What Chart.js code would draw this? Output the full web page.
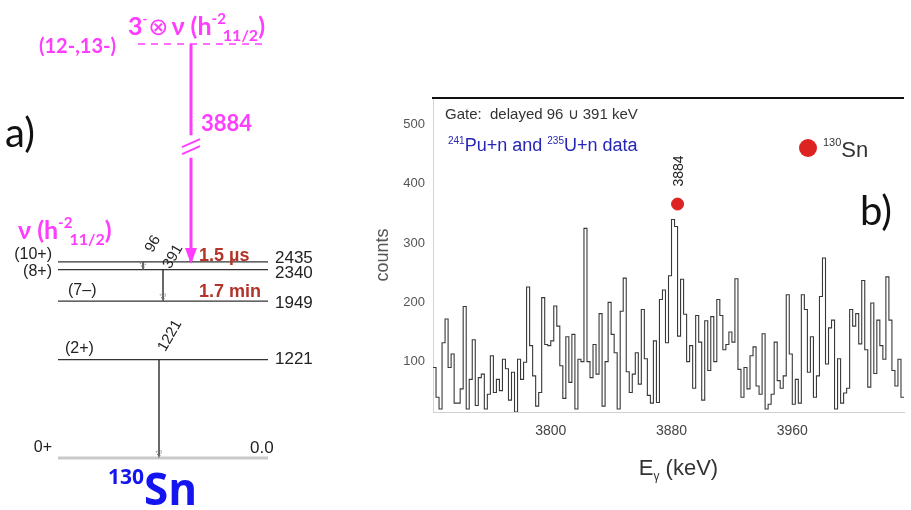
<!DOCTYPE html>
<html>
<head>
<meta charset="utf-8">
<script src="https://cdn.jsdelivr.net/npm/chart.js@4.4.1/dist/chart.umd.min.js"></script>
<style>
    body { margin: 0; background: #fff; width: 911px; height: 510px; overflow: hidden; position: relative; }
    .box { position: absolute; top: 0; height: 510px; }
</style>
</head>
<body>
<div class="box" style="left:0;width:340px"><canvas id="scheme"></canvas></div>
<div class="box" style="left:340px;width:571px"><canvas id="spec"></canvas></div>
<script>
// ---- level scheme of 130Sn (keV)
var levelEnergy = [0, 1221, 1949, 2340, 2435, 6319]
var levelSpin = ['0+', '(2+)', '(7–)', '(8+)', '(10+)', '(12-,13-)']
var levelText = ['0.0', '1221', '1949', '2340', '2435', '']
var gammaFrom = [2435, 2340, 1221, 6319]
var gammaTo = [2340, 1949, 0, 2435]
var gammaLabel = ['96', '391', '1221', '3884']
var isomerLevel = [2435, 1949]
var isomerHalfLife = ['1.5 µs', '1.7 min']

// ---- gated spectrum, 2 keV bins from 3722 keV
var binStart = 3722
var binWidth = 2
var counts = [
    90, 40, 20, 132, 172, 90, 113, 30, 30, 54,
    193, 20, 70, 137, 26, 73, 79, 20, 45, 110,
    48, 70, 51, 104, 88, 35, 82, 15, 104, 70,
    99, 226, 127, 76, 25, 48, 208, 129, 127, 135,
    194, 160, 93, 38, 142, 65, 146, 20, 104, 100,
    325, 100, 73, 129, 79, 181, 25, 100, 200, 146,
    115, 20, 185, 241, 83, 48, 79, 115, 62, 188,
    105, 43, 30, 135, 31, 205, 221, 132, 245, 340,
    328, 143, 239, 180, 100, 127, 55, 178, 133, 35,
    169, 85, 176, 100, 205, 178, 120, 129, 150, 133,
    240, 87, 40, 90, 54, 110, 125, 59, 45, 147,
    20, 28, 45, 133, 68, 55, 76, 213, 113, 28,
    70, 30, 213, 188, 82, 142, 40, 76, 210, 275,
    96, 157, 170, 20, 105, 30, 47, 55, 188, 160,
    181, 130, 237, 120, 57, 199, 80, 170, 127, 104,
    243, 170, 85, 59, 104, 40
]
var xTicks = [3800, 3880, 3960]
var yTicks = [100, 200, 300, 400, 500]
var peakEnergy = 3884
var peakMark = 366

var MAGENTA = '#ff3cff'
var ISO_RED = '#b3342b'
var SANS = "'Liberation Sans', Arial, sans-serif"
var CAL = "Lato, 'DejaVu Sans', sans-serif"

// the axis is broken above 2500 keV, upper part squeezed
var BREAK_E = 2500
var SQUEEZE = 0.692
var BREAK_HI = 4010
var BREAK_LO = 3730
function dispE(e) {
    return e > BREAK_E ? BREAK_E + (e - BREAK_E) * SQUEEZE : e
}

// draws a run of text pieces [text, font, dy, dx]
function drawParts(ctx, x, y, parts, align) {
    var w = 0
    parts.forEach(function(p) { ctx.font = p[1]; w += ctx.measureText(p[0]).width + (p[3] || 0) })
    if (align == 'center') x -= w / 2
    else if (align == 'right') x -= w
    ctx.textAlign = 'left'
    parts.forEach(function(p) {
        ctx.font = p[1]
        x += (p[3] || 0)
        ctx.fillText(p[0], x, y + (p[2] || 0))
        x += ctx.measureText(p[0]).width
    })
}

// ================= a) level scheme
var LX0 = 58, LX1 = 268
var gammaX = [143, 163, 159, 191]
var schemeSets = []

levelEnergy.forEach(function(e, i) {
    var top = i == levelEnergy.length - 1
    schemeSets.push({
        data: [{x: top ? 138 : LX0, y: dispE(e)}, {x: top ? 265 : LX1, y: dispE(e)}],
        borderColor: i == 0 ? '#c9c9c9' : (top ? MAGENTA : '#333'),
        borderWidth: i == 0 ? 3 : (top ? 1.6 : 1.3),
        borderDash: top ? [7, 6] : []
    })
})

gammaFrom.forEach(function(e, i) {
    var big = gammaLabel[i] == '3884'
    var col = big ? MAGENTA : '#555'
    if (big) {
        // two pieces round the axis break
        schemeSets.push({data: [{x: gammaX[i], y: dispE(e)}, {x: gammaX[i], y: BREAK_HI}], borderColor: col, borderWidth: 3, gamma: i})
        schemeSets.push({data: [{x: gammaX[i], y: BREAK_LO}, {x: gammaX[i], y: dispE(gammaTo[i])}], borderColor: col, borderWidth: 3, gamma: i, head: true})
    } else {
        schemeSets.push({data: [{x: gammaX[i], y: dispE(e)}, {x: gammaX[i], y: dispE(gammaTo[i])}], borderColor: col, borderWidth: 1, gamma: i, head: true})
    }
})

var schemeDecor = {
    id: 'schemeDecor',
    afterDatasetsDraw: function(chart) {
        var ctx = chart.ctx
        var xs = chart.scales.x, ys = chart.scales.y
        var px = function(v) { return xs.getPixelForValue(v) }
        var py = function(e) { return ys.getPixelForValue(dispE(e)) }
        ctx.save()

        // arrow heads
        chart.data.datasets.forEach(function(ds, k) {
            if (!ds.head) return
            var meta = chart.getDatasetMeta(k)
            var p = meta.data[meta.data.length - 1]
            var big = gammaLabel[ds.gamma] == '3884'
            var hw = big ? 6 : 3, hh = big ? 14 : 7
            ctx.beginPath()
            ctx.moveTo(p.x, p.y + (big ? 2 : 0))
            ctx.lineTo(p.x - hw, p.y - hh)
            ctx.lineTo(p.x + hw, p.y - hh)
            ctx.closePath()
            if (big) { ctx.fillStyle = MAGENTA; ctx.fill() }
            else { ctx.strokeStyle = '#777'; ctx.lineWidth = 0.9; ctx.setLineDash([1.5, 1.5]); ctx.stroke(); ctx.setLineDash([]) }
        })

        // break marks
        var bx = px(gammaX[3])
        var byHi = ys.getPixelForValue(BREAK_HI)
        ctx.strokeStyle = MAGENTA
        ctx.lineWidth = 2
        ;[byHi + 8, byHi + 15].forEach(function(y) {
            ctx.beginPath()
            ctx.moveTo(bx - 9, y + 4)
            ctx.lineTo(bx + 9, y - 4)
            ctx.stroke()
        })

        // level labels
        var spinPos = [[52, 'right', -10], [65, 'left', -11], [68, 'left', -10], [52, 'right', 2], [52, 'right', -7]]
        var enPos = [[250, -10], [275, 0], [275, 2], [275, 4], [275, -4]]
        ctx.fillStyle = '#222'
        ctx.textBaseline = 'middle'
        for (var i = 0; i < 5; i++) {
            ctx.font = '16px ' + SANS
            ctx.textAlign = spinPos[i][1]
            ctx.fillText(levelSpin[i], px(spinPos[i][0]), py(levelEnergy[i]) + spinPos[i][2])
            ctx.textAlign = 'left'
            ctx.font = '17px ' + SANS
            ctx.fillText(levelText[i], px(enPos[i][0]), py(levelEnergy[i]) + enPos[i][1])
        }

        // rotated gamma labels
        var gOff = [[10, -18], [10, -13], [11, -24]]
        ctx.font = '15px ' + SANS
        ctx.textAlign = 'center'
        for (var g = 0; g < 3; g++) {
            ctx.save()
            ctx.translate(px(gammaX[g]) + gOff[g][0], py(gammaFrom[g]) + gOff[g][1])
            ctx.rotate(-1.05)
            ctx.fillText(gammaLabel[g], 0, 0)
            ctx.restore()
        }

        // isomer half-lives
        ctx.fillStyle = ISO_RED
        ctx.font = 'bold 18px ' + SANS
        ctx.textAlign = 'left'
        ctx.fillText(isomerHalfLife[0], px(199), py(isomerLevel[0]) - 6)
        ctx.fillText(isomerHalfLife[1], px(199), py(isomerLevel[1]) - 9)

        // magenta labels
        ctx.fillStyle = MAGENTA
        ctx.textBaseline = 'alphabetic'
        ctx.font = 'bold 22px ' + CAL
        ctx.fillText(gammaLabel[3], px(gammaX[3]) + 10, 131)
        ctx.font = 'bold 20px ' + CAL
        ctx.textAlign = 'right'
        ctx.fillText(levelSpin[5], px(116), py(levelEnergy[5]) + 9)

        var B = 'bold 25px ' + CAL
        drawParts(ctx, px(128), 35, [
            ['3', B], ['-', 'bold 13px ' + CAL, -11], ['⊗', '24px ' + CAL, 0, 1], ['ν', B, 0, 3], [' (h', B],
            ['-2', 'bold 15px ' + CAL, -11], ['11/2', 'bold 16px ' + CAL, 6, -3], [')', B]
        ])
        drawParts(ctx, px(18), 239, [
            ['ν', B], [' (h', B], ['-2', 'bold 15px ' + CAL, -11], ['11/2', 'bold 16px ' + CAL, 6, -3], [')', B]
        ])

        // panel letter and nucleus
        ctx.fillStyle = '#111'
        ctx.font = '40px ' + CAL
        ctx.fillText('a)', 5, 147)
        ctx.fillStyle = '#1414f0'
        drawParts(ctx, 108, 505, [['130', 'bold 21px ' + "'Open Sans', sans-serif", -21], ['Sn', 'bold 44px ' + "'Open Sans', sans-serif"]])
        ctx.restore()
    }
}

new Chart(document.getElementById('scheme'), {
    type: 'scatter',
    data: { datasets: schemeSets },
    options: {
        responsive: true,
        maintainAspectRatio: false,
        animation: false,
        showLine: true,
        elements: { point: { radius: 0 }, line: { borderCapStyle: 'butt' } },
        layout: { padding: 0 },
        plugins: { legend: { display: false }, tooltip: { enabled: false } },
        scales: {
            x: { type: 'linear', min: 0, max: 340, display: false },
            y: { type: 'linear', min: -646, max: 5689, display: false }
        }
    },
    plugins: [schemeDecor]
})

// ================= b) spectrum
var specPoints = counts.map(function(c, i) { return {x: binStart + i * binWidth, y: c} })
specPoints.push({x: binStart + counts.length * binWidth, y: counts[counts.length - 1]})

var specDecor = {
    id: 'specDecor',
    afterDraw: function(chart) {
        var ctx = chart.ctx
        var a = chart.chartArea
        var xs = chart.scales.x, ys = chart.scales.y
        ctx.save()
        ctx.strokeStyle = '#111'
        ctx.lineWidth = 2
        ctx.beginPath()
        ctx.moveTo(a.left - 1, a.top)
        ctx.lineTo(a.right, a.top)
        ctx.stroke()

        ctx.textBaseline = 'alphabetic'
        ctx.fillStyle = '#333'
        ctx.font = '15px ' + SANS
        ctx.textAlign = 'left'
        ctx.fillText('Gate:  delayed 96 ∪ 391 keV', a.left + 12, a.top + 21)

        ctx.fillStyle = '#2626b4'
        var S = '18px ' + SANS, s = '10px ' + SANS
        drawParts(ctx, a.left + 15, a.top + 53, [['241', s, -7], ['Pu+n and ', S], ['235', s, -7], ['U+n data', S]])

        // peak label
        var dx = xs.getPixelForValue(peakEnergy), dy = ys.getPixelForValue(peakMark)
        ctx.fillStyle = '#222'
        ctx.font = '14px ' + SANS
        ctx.save()
        ctx.translate(dx + 5, dy - 33)
        ctx.rotate(-Math.PI / 2)
        ctx.textAlign = 'center'
        ctx.fillText(String(peakEnergy), 0, 0)
        ctx.restore()

        // legend
        ctx.fillStyle = '#dd2222'
        ctx.beginPath()
        ctx.arc(a.left + 375, a.top + 50, 9, 0, Math.PI * 2)
        ctx.fill()
        ctx.fillStyle = '#333'
        drawParts(ctx, a.left + 390, a.top + 59, [['130', '11px ' + SANS, -11], ['Sn', '22px ' + SANS]])

        ctx.fillStyle = '#111'
        ctx.font = '40px ' + CAL
        ctx.fillText('b)', a.left + 427, 225)

        // x title
        ctx.fillStyle = '#333'
        drawParts(ctx, (a.left + a.right) / 2 + 10, 475, [['E', '22px ' + SANS], ['γ', '12px ' + SANS, 5], [' (keV)', '22px ' + SANS]], 'center')
        ctx.restore()
    }
}

new Chart(document.getElementById('spec'), {
    type: 'line',
    data: {
        datasets: [
            { data: specPoints, stepped: true, borderColor: '#383838', borderWidth: 1.1, pointRadius: 0, fill: false, order: 2 },
            { type: 'scatter', data: [{x: peakEnergy, y: peakMark}], pointRadius: 6, backgroundColor: '#dd2222', borderColor: '#dd2222', order: 1 }
        ]
    },
    options: {
        responsive: true,
        maintainAspectRatio: false,
        animation: false,
        layout: { padding: { top: 98, right: 1, left: 0, bottom: 0 } },
        plugins: { legend: { display: false }, tooltip: { enabled: false } },
        scales: {
            x: {
                type: 'linear', min: binStart, max: binStart + counts.length * binWidth,
                afterBuildTicks: function(s) { s.ticks = xTicks.map(function(v) { return {value: v} }) },
                afterFit: function(s) { s.height = 98; s.paddingLeft = 0; s.paddingRight = 0 },
                grid: { display: false, drawTicks: false },
                border: { color: '#cfcfcf' },
                ticks: { padding: 11, color: '#444', maxRotation: 0, font: { family: SANS, size: 14 }, callback: function(v) { return String(v) } }
            },
            y: {
                min: 15, max: 545,
                afterBuildTicks: function(s) { s.ticks = yTicks.map(function(v) { return {value: v} }) },
                afterFit: function(s) { s.width = 93; s.paddingTop = 0; s.paddingBottom = 0 },
                grid: { display: false, drawTicks: false },
                border: { color: '#d4d4d4' },
                ticks: { padding: 8, color: '#555', font: { family: SANS, size: 13 } },
                title: { display: true, text: 'counts', color: '#555', font: { family: SANS, size: 18 }, padding: { top: 32, bottom: 0 } }
            }
        }
    },
    plugins: [specDecor]
})
</script>
</body>
</html>
